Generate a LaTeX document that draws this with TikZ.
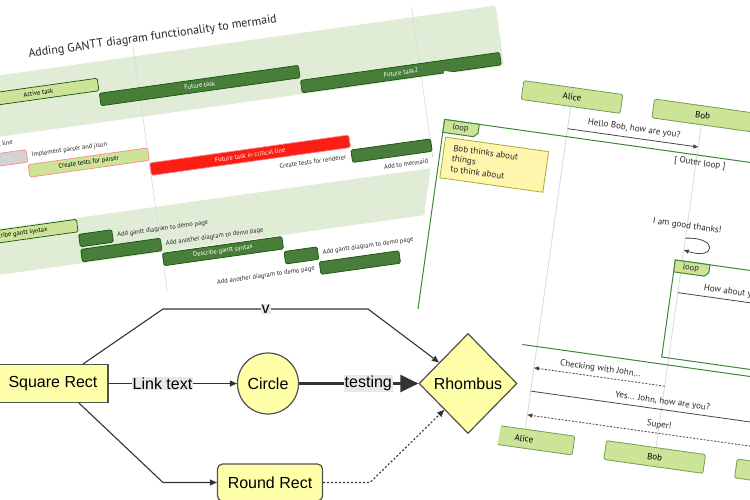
\documentclass[tikz,border=0pt]{standalone}
\usepackage{fontspec}
\setmainfont{Liberation Sans}
\newfontfamily\mermaidfont{PT Sans}
\usepackage{xcolor}
\usepackage{tikz}
\usetikzlibrary{shapes.geometric, arrows.meta, positioning}

\definecolor{nodefill}{RGB}{255,255,170}
\definecolor{nodeline}{RGB}{80,80,80}
\definecolor{edgegray}{RGB}{51,51,51}
\definecolor{labelbg}{RGB}{232,232,232}
\definecolor{sectionbg}{RGB}{225,236,215}
\definecolor{taskgreen}{RGB}{72,126,58}
\definecolor{taskline}{RGB}{19,84,12}
\definecolor{activefill}{RGB}{205,228,152}
\definecolor{critline}{RGB}{255,136,136}
\definecolor{critred}{RGB}{250,30,20}
\definecolor{donegray}{RGB}{211,211,211}
\definecolor{gridgray}{RGB}{218,218,218}
\definecolor{textgray}{RGB}{40,40,40}
\definecolor{loopgreen}{RGB}{62,135,55}
\definecolor{actorline}{RGB}{110,160,80}
\definecolor{notefill}{RGB}{255,245,173}
\definecolor{noteline}{RGB}{170,170,51}
\definecolor{msggray}{RGB}{70,70,70}

\begin{document}
\begin{tikzpicture}[x=1pt, y=-1pt,
  flownode/.style={draw=nodeline, fill=nodefill, line width=1.2pt, inner sep=0pt,
                   font=\fontsize{16}{18}\selectfont},
  flowedge/.style={draw=edgegray, line width=1.1pt, -{Triangle[length=7pt,width=6pt]}},
  thickedge/.style={draw=edgegray, line width=2.6pt, -{Triangle[length=18pt,width=17pt]}},
  dotedge/.style={flowedge, dash pattern=on 2pt off 2pt},
  edgelabel/.style={fill=labelbg, inner sep=1pt, font=\fontsize{16}{18}\selectfont},
  gridline/.style={draw=gridgray, line width=0.6pt},
  titletext/.style={text=textgray, inner sep=0pt, font=\mermaidfont\fontsize{12}{14}\selectfont},
  ganttbar/.style={anchor=west, minimum height=12.6pt, inner sep=0pt, rounded corners=1.5pt,
                   line width=0.7pt, font=\mermaidfont\fontsize{6.5}{7}\selectfont},
  taskbar/.style={ganttbar, draw=taskline, fill=taskgreen, text=white},
  activebar/.style={ganttbar, draw=taskline, fill=activefill, text=black},
  critbar/.style={ganttbar, draw=critline, fill=critred, text=white},
  critactivebar/.style={ganttbar, draw=critline, fill=activefill, text=black},
  critdonebar/.style={ganttbar, draw=critline, fill=donegray},
  outlabel/.style={inner sep=0pt, text=textgray, font=\mermaidfont\fontsize{6.5}{7}\selectfont},
  actor/.style={draw=actorline, fill=activefill, line width=0.8pt, rounded corners=1.5pt,
                minimum width=100pt, minimum height=19pt, inner sep=0pt,
                font=\mermaidfont\fontsize{9}{10}\selectfont},
  lifeline/.style={draw=gridgray, line width=0.8pt},
  loopbox/.style={draw=loopgreen, line width=1pt},
  looptext/.style={inner sep=0pt, text=textgray, font=\mermaidfont\fontsize{8.5}{9}\selectfont},
  msgtext/.style={inner sep=0pt, text=textgray, font=\mermaidfont\fontsize{9}{10}\selectfont},
  msgline/.style={draw=msggray, line width=0.8pt, -{Triangle[length=5pt,width=4pt]}},
  msgdash/.style={msgline, dash pattern=on 2pt off 1.5pt},
  notebox/.style={draw=noteline, fill=notefill, line width=0.8pt, inner sep=0pt},
]
\useasboundingbox (0,0) rectangle (750,500);
\clip (0,0) rectangle (750,500);
\fill[white] (0,0) rectangle (750,500);

% gantt chart
\begin{scope}[rotate=8, transform shape]
  \fill[sectionbg, rounded corners=3pt] (-200,74.5) rectangle (490,135.3);
  \fill[sectionbg] (-200,226.5) rectangle (490,272.1);
  \draw[gridline] (125.2,64) -- (125.2,312);
  \draw[gridline] (406.6,64) -- (406.6,312);
  \node[titletext] (title) at (146,58) {Adding GANTT diagram functionality to mermaid};

  \node[activebar, minimum width=120.6] (t1) at (-35.6,97.3) {Active task};
  \node[taskbar, minimum width=201] (t2) at (85,112.5) {Future task};
  \node[taskbar, minimum width=201] (t3) at (286,127.7) {Future task2};

  \node[outlabel, anchor=east] (l4) at (-7,142.9) {Completed task in the critical line};
  \node[critdonebar, minimum width=80.4] (t5) at (-75.8,158.1) {};
  \node[outlabel, anchor=west] (l5) at (9.6,158.1) {Implement parser and jison};
  \node[critactivebar, minimum width=120.6] (t6) at (4.6,173.3) {Create tests for parser};
  \node[critbar, minimum width=201] (t7) at (125.2,188.5) {Future task in critical line};
  \node[taskbar, minimum width=80.4] (t8) at (326.2,203.7) {};
  \node[outlabel, anchor=east] (l8) at (321.2,203.7) {Create tests for renderer};
  \node[taskbar, minimum width=40.2] (t9) at (406.6,218.9) {};
  \node[outlabel, anchor=east] (l9) at (401.6,218.9) {Add to mermaid};

  \node[activebar, minimum width=120.6] (t10) at (-75.8,234.1) {Describe gantt syntax};
  \node[taskbar, minimum width=33.5] (t11) at (44.8,249.3) {};
  \node[outlabel, anchor=west] (l11) at (83.3,249.3) {Add gantt diagram to demo page};
  \node[taskbar, minimum width=80.4] (t12) at (44.8,264.5) {};
  \node[outlabel, anchor=west] (l12) at (130.2,264.5) {Add another diagram to demo page};

  \node[taskbar, minimum width=120.6] (t13) at (125.2,279.7) {Describe gantt syntax};
  \node[taskbar, minimum width=33.5] (t14) at (245.8,294.9) {};
  \node[outlabel, anchor=west] (l14) at (284.3,294.9) {Add gantt diagram to demo page};
  \node[taskbar, minimum width=80.4] (t15) at (279.3,310.1) {};
  \node[outlabel, anchor=east] (l15) at (274.3,310.1) {Add another diagram to demo page};
\end{scope}

% sequence diagram
\begin{scope}[shift={(572,97)}, rotate=-8, transform shape]
  \fill[white] (-130,-8) rectangle (480,380);
  \node[actor] (aliceTop) at (0,0) {Alice};
  \node[actor] (bobTop) at (132,0) {Bob};
  \node[actor] (johnTop) at (264,0) {John};
  \node[actor] (aliceBot) at (0,345) {Alice};
  \node[actor] (bobBot) at (132,345) {Bob};
  \node[actor] (johnBot) at (264,345) {John};
  \draw[lifeline] (aliceTop) -- (aliceBot);
  \draw[lifeline] (bobTop) -- (bobBot);
  \draw[lifeline] (johnTop) -- (johnBot);

  \draw[loopbox] (-123,40) rectangle (470,252);
  \draw[loopbox, fill=activefill] (-123,40) -- (-88,40) -- (-88,49) -- (-92,53) -- (-123,53) -- cycle;
  \node[looptext] (outerTag) at (-106,46.5) {loop};
  \node[msgtext] (outerName) at (136,48) {[ Outer loop ]};
  \draw[loopbox] (125,147) rectangle (460,245);
  \draw[loopbox, fill=activefill] (125,147) -- (160,147) -- (160,155) -- (156,159) -- (125,159) -- cycle;
  \node[looptext] (innerTag) at (141.5,153) {loop};

  \node[notebox, anchor=north west, minimum width=104, minimum height=41] (note) at (-120,57) {};
  \node[msgtext, anchor=north west, align=left, font=\mermaidfont\fontsize{9}{10.5}\selectfont]
    (noteText) at (-110.5,63.5) {Bob thinks about\\things\\to think about};

  \node[msgtext] (m1) at (66,23) {Hello Bob, how are you?};
  \draw[msgline] (0,32) -- (132,32);
  \node[msgtext] (m2) at (132,112) {I am good thanks!};
  \draw[msgline] (132,124) .. controls (165,118) and (165,142) .. (132,136);
  \node[msgtext] (m3) at (198,171) {How about you John?};
  \draw[msgline] (132,179) -- (264,179);
  \node[msgtext] (m4) at (66,265.5) {Checking with John...};
  \draw[msgdash] (132,273.5) -- (0,273.5);
  \node[msgtext] (m5) at (132,289) {Yes... John, how are you?};
  \draw[msgline] (0,297) -- (264,297);
  \node[msgtext] (m6) at (132,313) {Super!};
  \draw[msgdash] (264,321) -- (0,321);
\end{scope}

% flowchart
\fill[white] (-1,297) -- (418,309) -- (529,318) -- (500,430) -- (488,501) -- (-1,501) -- cycle;
\node[flownode, rectangle, minimum width=110, minimum height=38] (sq) at (53,383.5) {Square Rect};
\node[flownode, circle, minimum size=61] (circ) at (268,383.5) {Circle};
\node[flownode, diamond, minimum width=98, minimum height=100] (rh) at (468,383.5) {Rhombus};
\node[flownode, rectangle, rounded corners=5pt, minimum width=105, minimum height=37] (rr) at (270,482.5) {Round Rect};
\coordinate (topL) at (163,309);
\coordinate (topR) at (368,309);
\coordinate (botL) at (163,482.5);
\coordinate (dotR) at (370,482.5);

\draw[flowedge] (sq) -- node[edgelabel, pos=0.42] {Link text} (circ);
\draw[thickedge] (circ) -- node[edgelabel, pos=0.58] {testing} (rh);
\draw[flowedge] (sq.33) -- (topL) -- node[edgelabel] {v} (topR) -- (rh.144);
\draw[flowedge] (sq.-37) -- (botL) -- (rr);
\draw[dotedge] (rr) -- (dotR) -- (rh.228);
\end{tikzpicture}
\end{document}
